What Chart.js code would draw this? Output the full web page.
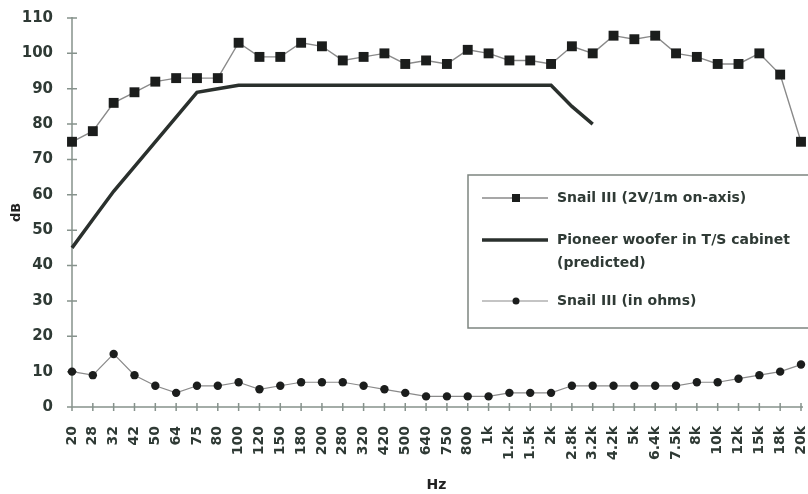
<!DOCTYPE html>
<html><head><meta charset="utf-8">
<script src="https://cdn.jsdelivr.net/npm/chart.js@4"></script>
<style>html,body{margin:0;padding:0;background:#fff}canvas{display:block}</style>
</head><body>
<canvas id="c" width="808" height="494"></canvas>
<script>
const categories = ['20','28','32','42','50','64','75','80','100','120','150','180','200','280','320','420','500','640','750','800','1k','1.2k','1.5k','2k','2.8k','3.2k','4.2k','5k','6.4k','7.5k','8k','10k','12k','15k','18k','20k'];
const snailSpl = [75,78,86,89,92,93,93,93,103,99,99,103,102,98,99,100,97,98,97,101,100,98,98,97,102,100,105,104,105,100,99,97,97,100,94,75];
const pioneerPredicted = [45,53,61,68,75,82,89,90,91,91,91,91,91,91,91,91,91,91,91,91,91,91,91,91,85,80,null,null,null,null,null,null,null,null,null,null];
const snailOhms = [10,9,15,9,6,4,6,6,7,5,6,7,7,7,6,5,4,3,3,3,3,4,4,4,6,6,6,6,6,6,7,7,8,9,10,12];
const seriesNames = [['Snail III (2V/1m on-axis)'], ['Pioneer woofer in T/S cabinet', '(predicted)'], ['Snail III (in ohms)']];
const yAxisTitle = 'dB';
const xAxisTitle = 'Hz';
const yMin = 0, yMax = 110, yStep = 10;

const FONT = '"DejaVu Sans", sans-serif';
const TEXT = '#2f3a35';
const AXIS = '#86928c';

const axesPlugin = {
  id: 'axesCross',
  beforeDatasetsDraw(chart) {
    const {ctx, chartArea: a, scales: {x, y}} = chart;
    ctx.save();
    ctx.strokeStyle = AXIS; ctx.lineWidth = 1.5;
    ctx.beginPath();
    ctx.moveTo(a.left, a.top - 1); ctx.lineTo(a.left, a.bottom);
    ctx.moveTo(a.left, a.bottom); ctx.lineTo(a.right + 2, a.bottom);
    y.ticks.forEach((t, i) => { const py = y.getPixelForTick(i); ctx.moveTo(a.left - 5, py); ctx.lineTo(a.left + 5, py); });
    x.ticks.forEach((t, i) => { const px = x.getPixelForTick(i); ctx.moveTo(px, a.bottom - 4); ctx.lineTo(px, a.bottom + 4); });
    ctx.stroke();
    ctx.restore();
  }
};

const legendPlugin = {
  id: 'boxLegend',
  afterDatasetsDraw(chart) {
    const {ctx} = chart;
    const bx = 468, by = 175, bw = 400, bh = 153;
    ctx.save();
    ctx.fillStyle = '#fff';
    ctx.fillRect(bx, by, bw, bh);
    ctx.strokeStyle = '#7d8580'; ctx.lineWidth = 1.5;
    ctx.strokeRect(bx, by, bw, bh);
    const rows = [198, 240, 301];
    chart.data.datasets.forEach((ds, i) => {
      const yy = rows[i];
      ctx.strokeStyle = ds.borderColor; ctx.lineWidth = ds.borderWidth;
      ctx.beginPath(); ctx.moveTo(482, yy); ctx.lineTo(548, yy); ctx.stroke();
      if (ds.pointRadius > 0) {
        ctx.fillStyle = ds.pointBackgroundColor;
        if (ds.pointStyle === 'rect') { ctx.fillRect(516 - 4, yy - 4, 8, 8); }
        else { ctx.beginPath(); ctx.arc(516, yy, 3.5, 0, Math.PI * 2); ctx.fill(); }
      }
      ctx.fillStyle = TEXT;
      ctx.font = 'bold 14px ' + FONT;
      ctx.textBaseline = 'middle'; ctx.textAlign = 'left';
      seriesNames[i].forEach((line, j) => ctx.fillText(line, 557, yy + j * 23));
    });
    ctx.restore();
  }
};

new Chart(document.getElementById('c'), {
  type: 'line',
  data: {
    labels: categories,
    datasets: [
      { label: seriesNames[0].join(' '), data: snailSpl, borderColor: '#8a8a8a', borderWidth: 1.4,
        pointStyle: 'rect', pointRadius: 7, pointBackgroundColor: '#1b1d1c', pointBorderColor: '#1b1d1c', pointBorderWidth: 0,
        tension: 0, clip: false },
      { label: seriesNames[1].join(' '), data: pioneerPredicted, borderColor: '#2a302d', borderWidth: 3.5,
        pointRadius: 0, tension: 0, spanGaps: false, clip: false },
      { label: seriesNames[2].join(' '), data: snailOhms, borderColor: '#8a8a8a', borderWidth: 1.2,
        pointStyle: 'circle', pointRadius: 4.2, pointBackgroundColor: '#1b1d1c', pointBorderColor: '#1b1d1c', pointBorderWidth: 0,
        tension: 0, clip: false }
    ]
  },
  options: {
    responsive: false,
    animation: false,
    devicePixelRatio: 1,
    layout: { padding: { left: 0, right: 1, top: 18, bottom: 0 } },
    plugins: { legend: { display: false }, tooltip: { enabled: false } },
    scales: {
      x: {
        type: 'category', offset: false,
        grid: { display: false, drawTicks: false }, border: { display: false },
        ticks: { autoSkip: false, minRotation: 90, maxRotation: 90, padding: 19, color: TEXT, font: { family: FONT, size: 14, weight: 'bold' } },
        title: { display: true, text: xAxisTitle, color: '#222', font: { family: FONT, size: 14, weight: 'bold' }, padding: { top: 0, bottom: 0 } },
        afterFit(s) { s.height = 87; s.paddingLeft = 0; s.paddingRight = 0; }
      },
      y: {
        min: yMin, max: yMax,
        grid: { display: false, drawTicks: false }, border: { display: false },
        ticks: { stepSize: yStep, padding: 19, color: TEXT, font: { family: FONT, size: 15, weight: 'bold' } },
        title: { display: true, text: yAxisTitle, color: '#222', font: { family: FONT, size: 13, weight: 'bold' }, padding: { top: 9, bottom: 0 } },
        afterFit(s) { s.width = 72; s.paddingTop = 0; s.paddingBottom = 0; }
      }
    }
  },
  plugins: [axesPlugin, legendPlugin]
});
</script>
</body></html>
